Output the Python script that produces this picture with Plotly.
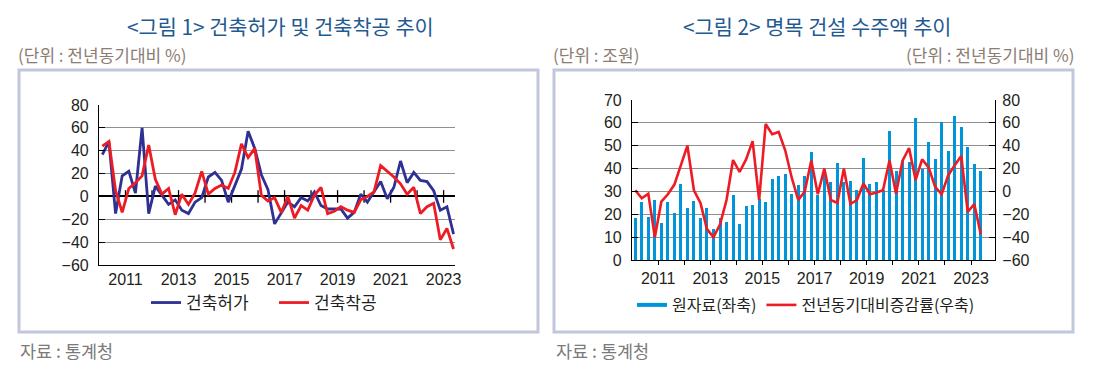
import plotly.graph_objects as go

# ---------------- data ----------------
quarters = [f"{y}Q{q}" for y in range(2010, 2024) for q in range(1, 5)][:54]

# 그림 1 (전년동기대비 %)
permits = [36.5, 48, -15, 18, 22, 3, 60, -15, 9, 1, -7, -3, -12, -15, -5, -1, 17, 21, 14, -5,
           9, 24, 57, 42, 19, 6, -24, -15, -5, -9, -1, -4, 4, -8, -11, -11, -11, -19, -14, 2,
           -5, 4, 13, -2, 8, 31, 12, 21, 14, 13, 5, -12, -9, -33]
starts = [44, 48, 5, -14, 7, 12, 18, 45, 15, 2, 7, -16, 2, -7, 3, 22, 2, 7, 10, 7,
          21, 46, 34, 42, 1, -4, -1, -14, 0, -19, -8, -12, 1, 8, -15, -13, -9, -12, -14, -3,
          0, 4, 27, 22, 17, 11, 2, 8, -15, -9, -6, -38, -28, -46]

# 그림 2
orders = [18.5, 25.5, 18.8, 26.2, 16.3, 25.5, 20.7, 33.4, 22.9, 26, 18.5, 22.9, 13.6, 18.5,
          16.8, 28.4, 15.9, 23.8, 24.1, 26.7, 25.5, 35.4, 36.9, 37.8, 29, 32.8, 36.9, 47.4,
          28.4, 37.5, 34, 42.3, 34, 34.6, 30.5, 44.8, 33.3, 34, 30.5, 56.4, 38.9, 43.3, 42.7,
          62.3, 40, 51.5, 44.2, 60.2, 47.7, 63, 58.2, 49.4, 42, 38.9]
orders_yoy = [1, -6, -2, -40, -9, -2.5, 6, 24, 40, 1, -10, -33, -40, -29, -7.5, 27.5, 17, 28,
              44, -7.5, 59, 50, 52, 36, 12, -7.5, 0, 27, -2.5, 20, -7.5, -10, 20, -11, -7.5, 7,
              -2.5, -1, 1, 27, -2, 27, 38, 10, 28, 21, 4, -2.5, 14, 23, 31, -18, -11, -37.5]

year_labels = [2011, 2013, 2015, 2017, 2019, 2021, 2023]
all_years = list(range(2011, 2024))

xpos = [int(s[:4]) + (int(s[-1]) - 0.5) / 4 for s in quarters]

# ---------------- style ----------------
NAVY = "#2e3192"
RED = "#ed1c24"
CYAN = "#0095d9"
GRID = "#8f8f8f"
KFONT = "Noto Sans CJK KR"
NFONT = "Liberation Sans"
TXT = "#231f20"
OFF = 8                      # page body margin in the browser
W, H = 1094 - 2 * OFF, 376 - 2 * OFF


def px(x):
    return (x - OFF) / W


def py(y):
    return 1 - (y - OFF) / H


fig = go.Figure()

# ---- chart 1 ----
fig.add_trace(go.Scatter(x=all_years, y=[0] * len(all_years), mode="markers",
                         marker=dict(symbol="line-ns", size=9, line=dict(color="black", width=1.3)),
                         xaxis="x", yaxis="y", showlegend=False, hoverinfo="skip"))
fig.add_trace(go.Scatter(x=xpos, y=permits, mode="lines", name="건축허가",
                         line=dict(color=NAVY, width=2.8), xaxis="x", yaxis="y", legend="legend"))
fig.add_trace(go.Scatter(x=xpos, y=starts, mode="lines", name="건축착공",
                         line=dict(color=RED, width=2.8), xaxis="x", yaxis="y", legend="legend"))

# ---- chart 2 ----
fig.add_trace(go.Bar(x=xpos, y=orders, width=0.115, marker=dict(color=CYAN, line=dict(width=0)),
                     xaxis="x2", yaxis="y3", showlegend=False, name="원자료(좌축)"))
fig.add_trace(go.Scatter(x=[None], y=[None], mode="lines", name="원자료(좌축)",
                         line=dict(color=CYAN, width=4), xaxis="x2", yaxis="y3", legend="legend2"))
fig.add_trace(go.Scatter(x=xpos, y=orders_yoy, mode="lines", name="전년동기대비증감률(우축)",
                         line=dict(color=RED, width=2.6), xaxis="x2", yaxis="y4", legend="legend2"))

tickfont = dict(family=NFONT, size=16, color=TXT)

fig.update_layout(
    width=W, height=H, margin=dict(l=0, r=0, t=0, b=0, autoexpand=False),
    paper_bgcolor="white", plot_bgcolor="white",
    xaxis=dict(domain=[px(99), px(455)], range=[2010, 2023.43], anchor="y", automargin=False,
               tickmode="array", tickvals=year_labels, ticks="", showgrid=False,
               showline=True, linecolor="black", linewidth=1.2, zeroline=False,
               tickfont=tickfont),
    yaxis=dict(domain=[py(265), py(105)], range=[-60, 80], dtick=20, anchor="x", automargin=False,
               showgrid=True, gridcolor=GRID, gridwidth=1,
               zeroline=True, zerolinecolor="black", zerolinewidth=1.5,
               showline=True, linecolor="black", linewidth=1.2, ticklabelstandoff=6,
               ticks="inside", ticklen=6, tickcolor="black", tickfont=tickfont),
    yaxis2=dict(domain=[py(265), py(105)], range=[-60, 80], dtick=20, anchor="x", automargin=False,
                overlaying="y", side="right", showgrid=False, zeroline=False,
                showline=True, linecolor="black", linewidth=1.2, ticklabelstandoff=3,
                ticks="inside", ticklen=6, tickcolor="black", tickfont=tickfont),
    xaxis2=dict(domain=[px(632), px(995)], range=[2010, 2023.92], anchor="y3", automargin=False,
                tickmode="array", tickvals=year_labels, ticks="outside", ticklen=4,
                tickcolor="black", showgrid=False,
                minor=dict(tickvals=all_years, ticks="outside", ticklen=4, tickcolor="black", showgrid=False),
                showline=True, linecolor="black", linewidth=1.2, zeroline=False,
                tickfont=tickfont),
    yaxis3=dict(domain=[py(260), py(100)], range=[0, 70], dtick=10, anchor="x2", automargin=False,
                showgrid=True, gridcolor=GRID, gridwidth=1, zeroline=False,
                showline=True, linecolor="black", linewidth=1.2, ticklabelstandoff=6,
                ticks="inside", ticklen=6, tickcolor="black", tickfont=tickfont),
    yaxis4=dict(domain=[py(260), py(100)], range=[-60, 80], dtick=20, anchor="x2", automargin=False,
                overlaying="y3", side="right", showgrid=False, zeroline=False,
                showline=True, linecolor="black", linewidth=1.2, ticklabelstandoff=3,
                ticks="inside", ticklen=6, tickcolor="black", tickfont=tickfont),
    legend=dict(orientation="h", x=px(146), xanchor="left", y=py(303), yanchor="middle",
                font=dict(family=KFONT, size=17, color=TXT), bgcolor="rgba(0,0,0,0)",
                itemwidth=30, entrywidth=83, traceorder="normal"),
    legend2=dict(orientation="h", x=px(806), xanchor="center", y=py(305), yanchor="middle",
                 font=dict(family=KFONT, size=16, color=TXT), bgcolor="rgba(0,0,0,0)",
                 itemwidth=30, traceorder="normal"),
    bargap=0,
)

# frames
for x0, x1 in [(19, 538), (554, 1073)]:
    fig.add_shape(type="rect", xref="paper", yref="paper", x0=px(x0), x1=px(x1),
                  y0=py(332), y1=py(70), line=dict(color="#c1c7dc", width=3), layer="below")

title_font = dict(family=KFONT, size=20.8, color="#1f5a91")
sub_font = dict(family=KFONT, size=17, color="#8b7d73")
foot_font = dict(family=KFONT, size=17.5, color="#7a7a7a")

annots = [
    dict(x=px(281), y=py(26), text="<그림 1> 건축허가 및 건축착공 추이", font=title_font, xanchor="center"),
    dict(x=px(817), y=py(26), text="<그림 2> 명목 건설 수주액 추이", font=title_font, xanchor="center"),
    dict(x=px(16), y=py(55), text="(단위 : 전년동기대비 %)", font=sub_font, xanchor="left"),
    dict(x=px(551), y=py(55), text="(단위 : 조원)", font=sub_font, xanchor="left"),
    dict(x=px(1076), y=py(55), text="(단위 : 전년동기대비 %)", font=sub_font, xanchor="right"),
    dict(x=px(18), y=py(350), text="자료 : 통계청", font=foot_font, xanchor="left"),
    dict(x=px(554), y=py(350), text="자료 : 통계청", font=foot_font, xanchor="left"),
]
for a in annots:
    fig.add_annotation(xref="paper", yref="paper", showarrow=False, yanchor="middle", **a)

fig.write_html("out.html")
